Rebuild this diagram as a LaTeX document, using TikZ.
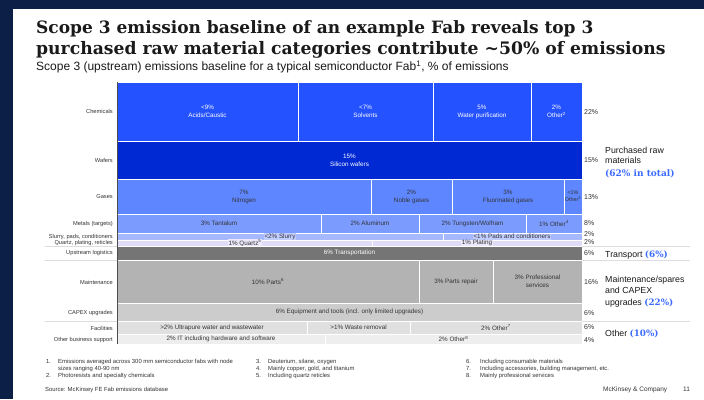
\documentclass[tikz,border=0pt]{standalone}
\usepackage{fontspec}
\setmainfont{Liberation Sans}
\newfontfamily\titlefont{DejaVu Serif}
\definecolor{navy}{HTML}{0B1F47}
\definecolor{chem}{HTML}{2452FF}
\definecolor{wafer}{HTML}{0029D4}
\definecolor{gas}{HTML}{5E86FF}
\definecolor{metal}{HTML}{7B9BFF}
\definecolor{slurry}{HTML}{A6B9FF}
\definecolor{slurrylab}{HTML}{C2CEFF}
\definecolor{quartz}{HTML}{E0DCF8}
\definecolor{quartzlab}{HTML}{EAE8FA}
\definecolor{transp}{HTML}{757575}
\definecolor{maint}{HTML}{B3B3B3}
\definecolor{capex}{HTML}{CCCCCC}
\definecolor{facil}{HTML}{E0E0E0}
\definecolor{obs}{HTML}{EEEEEE}
\definecolor{hl}{HTML}{3D6BFF}
\definecolor{txtdark}{HTML}{333333}
\definecolor{titlec}{HTML}{1A1A1A}
\definecolor{sepc}{HTML}{DDDDDD}
\newcommand\fs[1]{\fontsize{#1}{#1}\selectfont}
\newcommand\hlt[1]{{\color{hl}\titlefont\bfseries #1}}
\newcommand\cellbox[7]{%
  \node[cellst,#6,minimum width={(#3-#2)*1pt},minimum height={(#5-#4)*1pt}] (#1) at ({(#2+#3)/2},{(#4+#5)/2}) {#7};}
\begin{document}
\begin{tikzpicture}[x=1pt,y=-1pt,
  cellst/.style={draw=white,line width=0.6pt,inner sep=0pt,outer sep=0pt,align=center,
    font={\fontsize{6.3}{8}\selectfont}},
  chemst/.style={fill=chem,text=white},
  waferst/.style={fill=wafer,text=white},
  gasst/.style={fill=gas,text=txtdark},
  metalst/.style={fill=metal,text=txtdark},
  slurryst/.style={fill=slurry},
  quartzst/.style={fill=quartz},
  transst/.style={fill=transp,text=white},
  maintst/.style={fill=maint,text=txtdark},
  capexst/.style={fill=capex,text=txtdark},
  facilst/.style={fill=facil,text=txtdark},
  obsst/.style={fill=obs,text=txtdark},
  lablbox/.style={inner sep=0.6pt,text=txtdark,font={\fontsize{6.3}{7}\selectfont}},
  leftlab/.style={anchor=east,inner sep=0pt,text=txtdark,font={\fs{5.7}}},
  pct/.style={anchor=west,inner sep=0pt,text=txtdark,font={\fs{7}}},
  grouplab/.style={anchor=base west,inner sep=0pt,text=titlec,font={\fs{8.8}}},
  foot/.style={anchor=base west,inner sep=0pt,text=txtdark,font={\fs{5.9}}},
  sepline/.style={draw=sepc,line width=0.6pt}
]
\useasboundingbox (0,0) rectangle (704,399);
\fill[white] (0,0) rectangle (704,399);
\fill[navy] (0,0) rectangle (704,9);
\fill[navy] (0,0) rectangle (13,399);

% titles
\node[anchor=base west,inner sep=0pt,text=titlec,font={\titlefont\bfseries\fs{17}}] (t1) at (36,33) {Scope 3 emission baseline of an example Fab reveals top 3};
\node[anchor=base west,inner sep=0pt,text=titlec,font={\titlefont\bfseries\fs{17.2}}] (t2) at (36,54) {purchased raw material categories contribute \textasciitilde50\% of emissions};
\node[anchor=base west,inner sep=0pt,text=titlec,font={\fs{12}}] (sub) at (36,70.5) {Scope 3 (upstream) emissions baseline for a typical semiconductor Fab\textsuperscript{1}, \% of emissions};

% Chemicals
\cellbox{c1}{117}{298}{82}{141}{chemst}{<9\%\\Acids/Caustic}
\cellbox{c2}{298}{433}{82}{141}{chemst}{<7\%\\Solvents}
\cellbox{c3}{433}{531}{82}{141}{chemst}{5\%\\Water purification}
\cellbox{c4}{531}{582}{82}{141}{chemst}{2\%\\Other\textsuperscript{2}}
% Wafers
\cellbox{w1}{117}{582}{141}{179}{waferst}{15\%\\Silicon wafers}
% Gases
\cellbox{g1}{117}{371}{179}{214}{gasst}{7\%\\Nitrogen}
\cellbox{g2}{371}{452}{179}{214}{gasst}{2\%\\Noble gases}
\cellbox{g3}{452}{564}{179}{214}{gasst}{3\%\\Fluorinated gases}
\cellbox{g4}{564}{582}{179}{214}{gasst,font={\fontsize{5.4}{7}\selectfont}}{<1\%\\Other\textsuperscript{3}}
% Metals
\cellbox{m1}{117}{321}{214}{233}{metalst}{3\% Tantalum}
\cellbox{m2}{321}{419}{214}{233}{metalst}{2\% Aluminum}
\cellbox{m3}{419}{526}{214}{233}{metalst}{2\% Tungsten/Wolfram}
\cellbox{m4}{526}{582}{214}{233}{metalst}{1\% Other\textsuperscript{4}}
% Slurry / Quartz
\cellbox{s1}{117}{443}{233}{240}{slurryst}{}
\cellbox{s2}{443}{582}{233}{240}{slurryst}{}
\cellbox{q1}{117}{372}{240}{246}{quartzst}{}
\cellbox{q2}{372}{582}{240}{246}{quartzst}{}
\node[lablbox,fill=slurrylab] (s1l) at (280,236.6) {<2\% Slurry};
\node[lablbox,fill=slurrylab] (s2l) at (512,236.6) {<1\% Pads and conditioners};
\node[lablbox,fill=quartzlab] (q1l) at (245,243.2) {1\% Quartz\textsuperscript{5}};
\node[lablbox,fill=quartzlab] (q2l) at (477,243.2) {1\% Plating};
% Logistics
\cellbox{l1}{117}{582}{246}{260}{transst}{6\% Transportation}
% Maintenance
\cellbox{mt1}{117}{419}{260}{303}{maintst}{10\% Parts\textsuperscript{6}}
\cellbox{mt2}{419}{493}{260}{303}{maintst}{3\% Parts repair}
\cellbox{mt3}{493}{582}{260}{303}{maintst}{3\% Professional\\services}
% CAPEX
\cellbox{cx1}{117}{582}{303}{321}{capexst}{6\% Equipment and tools (incl. only limited upgrades)}
% Facilities
\cellbox{f1}{117}{307}{321}{334}{facilst}{>2\% Ultrapure water and wastewater}
\cellbox{f2}{307}{410}{321}{334}{facilst}{>1\% Waste removal}
\cellbox{f3}{410}{582}{321}{334}{facilst}{2\% Other\textsuperscript{7}}
% Other business support
\cellbox{o1}{117}{325}{334}{344}{obsst}{2\% IT including hardware and software}
\cellbox{o2}{325}{582}{334}{344}{obsst}{2\% Other\textsuperscript{8}}

% axis
\coordinate (axtop) at (117,82);
\coordinate (axbot) at (117,344);
\draw[draw=black!70,line width=0.8pt] (axtop) -- (axbot);

% separator lines
\coordinate (la1) at (45,246); \coordinate (lb1) at (117,246);
\coordinate (la2) at (45,260); \coordinate (lb2) at (117,260);
\coordinate (la3) at (45,321); \coordinate (lb3) at (117,321);
\coordinate (ra1) at (582,246); \coordinate (rb1) at (690,246);
\coordinate (ra2) at (582,260); \coordinate (rb2) at (690,260);
\coordinate (ra3) at (582,321); \coordinate (rb3) at (690,321);
\draw[sepline] (la1) -- (lb1);
\draw[sepline] (la2) -- (lb2);
\draw[sepline] (la3) -- (lb3);
\draw[sepline] (ra1) -- (rb1);
\draw[sepline] (ra2) -- (rb2);
\draw[sepline] (ra3) -- (rb3);

% left labels
\node[leftlab] (ll1) at (113,111.7) {Chemicals};
\node[leftlab] (ll2) at (113,160) {Wafers};
\node[leftlab] (ll3) at (113,196.7) {Gases};
\node[leftlab] (ll4) at (113,224) {Metals (targets)};
\node[leftlab] (ll5) at (113,237.3) {Slurry, pads, conditioners};
\node[leftlab] (ll6) at (113,242.9) {Quartz, plating, reticles};
\node[leftlab] (ll7) at (113,253.3) {Upstream logistics};
\node[leftlab] (ll8) at (113,282.3) {Maintenance};
\node[leftlab] (ll9) at (113,312.7) {CAPEX upgrades};
\node[leftlab] (ll10) at (113,328.3) {Facilities};
\node[leftlab] (ll11) at (113,340) {Other business support};

% right percentages
\node[pct] (p1) at (584,111.7) {22\%};
\node[pct] (p2) at (584,160) {15\%};
\node[pct] (p3) at (584,196.7) {13\%};
\node[pct] (p4) at (584,223.3) {8\%};
\node[pct] (p5) at (584,234.3) {2\%};
\node[pct] (p6) at (584,242.3) {2\%};
\node[pct] (p7) at (584,253.3) {6\%};
\node[pct] (p8) at (584,282.3) {16\%};
\node[pct] (p9) at (584,312.7) {6\%};
\node[pct] (p10) at (584,327.3) {6\%};
\node[pct] (p11) at (584,340) {4\%};

% group labels
\node[grouplab] (gl1a) at (605,153) {Purchased raw};
\node[grouplab] (gl1b) at (605,163.5) {materials};
\node[grouplab,font={\fs{9}}] (gl1c) at (605,176) {\hlt{(62\% in total)}};
\node[grouplab] (gl2) at (605,257) {Transport \hlt{(6\%)}};
\node[grouplab] (gl3a) at (605,282.5) {Maintenance/spares};
\node[grouplab] (gl3b) at (605,293) {and CAPEX};
\node[grouplab] (gl3c) at (605,305.5) {upgrades \hlt{(22\%)}};
\node[grouplab] (gl4) at (605,336) {Other \hlt{(10\%)}};

% footnotes
\node[foot] (fn1n) at (46,363.5) {1.};
\node[foot] (fn1) at (58,363.5) {Emissions averaged across 300 mm semiconductor fabs with node};
\node[foot] (fn1b) at (58,370) {sizes ranging 40-90 nm};
\node[foot] (fn2n) at (46,377) {2.};
\node[foot] (fn2) at (58,377) {Photoresists and specialty chemicals};
\node[foot] (fn3n) at (256,363.5) {3.};
\node[foot] (fn3) at (268,363.5) {Deuterium, silane, oxygen};
\node[foot] (fn4n) at (256,370.3) {4.};
\node[foot] (fn4) at (268,370.3) {Mainly copper, gold, and titanium};
\node[foot] (fn5n) at (256,377) {5.};
\node[foot] (fn5) at (268,377) {Including quartz reticles};
\node[foot] (fn6n) at (466,363.5) {6.};
\node[foot] (fn6) at (480,363.5) {Including consumable materials};
\node[foot] (fn7n) at (466,370.3) {7.};
\node[foot] (fn7) at (480,370.3) {Including accessories, building management, etc.};
\node[foot] (fn8n) at (466,377) {8.};
\node[foot] (fn8) at (480,377) {Mainly professional services};
\node[foot] (src) at (45,391) {Source: McKinsey FE Fab emissions database};
\node[foot,font={\fs{6.5}}] (mck) at (603,391) {McKinsey \& Company};
\node[foot,font={\fs{6.5}}] (pg) at (683,391) {11};
\end{tikzpicture}
\end{document}
